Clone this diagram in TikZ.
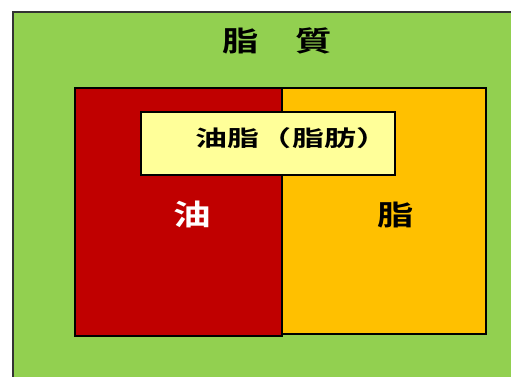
\documentclass[tikz,border=0pt]{standalone}
\usepackage{fontspec}
\newfontfamily\cjk{Noto Sans CJK JP}[BoldFont={Noto Sans CJK JP Bold}]
\definecolor{lgreen}{HTML}{92D050}
\definecolor{dred}{HTML}{C00000}
\definecolor{gold}{HTML}{FFC000}
\definecolor{pale}{HTML}{FFFF99}
\tikzset{
  box/.style={draw=black, line width=1.5pt, inner sep=0pt, anchor=north west},
  lbl/.style={inner sep=0pt, xscale=1.3}
}
\begin{document}
\begin{tikzpicture}[x=1pt,y=-1pt]
\useasboundingbox (0,0) rectangle (511,376);
\begin{scope}
\clip (0,0) rectangle (511,376);
\node[box, fill=lgreen, draw=black!80, line width=2pt, minimum width=520pt, minimum height=380pt] (outer) at (12,11) {};
\end{scope}
\node[box, fill=gold, minimum width=204pt, minimum height=246pt] (fat) at (281,87) {};
\node[box, fill=dred, minimum width=207pt, minimum height=248pt] (oil) at (74,87) {};
\node[box, fill=pale, minimum width=254pt, minimum height=63pt] (both) at (140,111) {};
\node[lbl, font=\cjk\bfseries\fontsize{28}{28}\selectfont] (title) at (277,41) {脂\hspace{1em}質};
\node[lbl, xscale=1.12, font=\cjk\bfseries\fontsize{22}{22}\selectfont] (bothlbl) at (292,138) {油脂（脂肪）};
\node[lbl, text=white, font=\cjk\bfseries\fontsize{29}{29}\selectfont] (oillbl) at (192,214) {油};
\node[lbl, font=\cjk\bfseries\fontsize{28}{28}\selectfont] (fatlbl) at (396,215) {脂};
\end{tikzpicture}
\end{document}
